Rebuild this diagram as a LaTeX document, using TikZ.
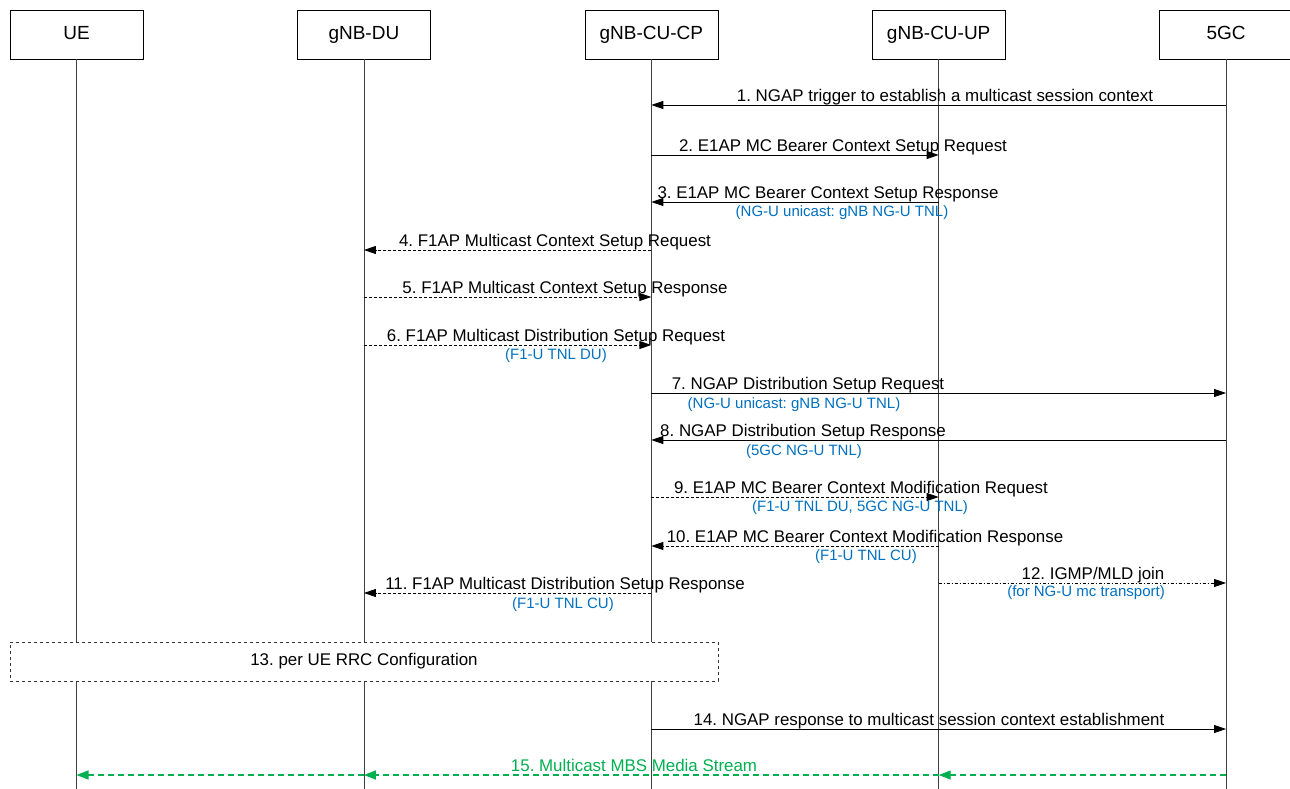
\documentclass[tikz,border=0pt]{standalone}
\usepackage{fontspec}
\setmainfont{Liberation Sans}
\usetikzlibrary{arrows.meta, positioning, calc}

\definecolor{noteblue}{RGB}{0,112,192}
\definecolor{streamgreen}{RGB}{0,176,80}

\begin{document}
\frenchspacing
\begin{tikzpicture}[
		x=1pt, y=-1pt,
		node distance=154pt,
		entity/.style={draw, minimum width=133pt, minimum height=49pt, inner sep=0pt, text height=14pt, text depth=4pt, font=\fontsize{19}{22}\selectfont},
		life/.style={draw=black!75, line width=0.8pt},
		msg/.style={-{Triangle[length=12pt, width=8pt]}, line width=0.9pt},
		dmsg/.style={msg, dash pattern=on 3pt off 2pt},
		ddmsg/.style={msg, dash pattern=on 3pt off 2pt on 1pt off 2pt},
		mlabel/.style={inner xsep=0pt, inner ysep=3.5pt, text height=12pt, text depth=0pt, anchor=south, font=\fontsize{16.9}{19}\selectfont},
		note/.style={inner sep=0pt, text=noteblue, font=\fontsize{15}{17}\selectfont},
		rrc/.style={draw=black!80, dashed, fill=white, minimum width=708pt, minimum height=39pt, font=\fontsize{16.9}{19}\selectfont},
		stream/.style={-{Triangle[length=12pt, width=9pt]}, draw=streamgreen, line width=1.3pt, dash pattern=on 6pt off 4pt}
		]
		\useasboundingbox (0,0) rectangle (1290,789);
		\coordinate (bottom) at (0,789);
		
		% entities
		\node[entity] (ue) at (76.5,34.5) {UE};
		\node[entity, right=of ue] (du) {gNB-DU};
		\node[entity, right=of du] (cp) {gNB-CU-CP};
		\node[entity, right=of cp] (up) {gNB-CU-UP};
		\node[entity, right=of up] (core) {5GC};
		
		% lifelines
		\draw[life] (ue.south) -- (ue |- bottom);
		\draw[life] (du.south) -- (du |- bottom);
		\draw[life] (cp.south) -- (cp |- bottom);
		\draw[life] (up.south) -- (up |- bottom);
		\draw[life] (core.south) -- (core |- bottom);
		
		% messages
		\node[mlabel] (m1) at (945,105) {1. NGAP trigger to establish a multicast session context};
		\draw[msg] (core |- m1.south) -- (cp |- m1.south);
		
		\node[mlabel] (m2) at (843,155) {2. E1AP MC Bearer Context Setup Request};
		\draw[msg] (cp |- m2.south) -- (up |- m2.south);
		
		\node[mlabel] (m3) at (828,202) {3. E1AP MC Bearer Context Setup Response};
		\draw[msg] (up |- m3.south) -- (cp |- m3.south);
		\node[note] (n3) at (842,213) {(NG-U unicast: gNB NG-U TNL)};
		
		\node[mlabel] (m4) at (555,250) {4. F1AP Multicast Context Setup Request};
		\draw[dmsg] (cp |- m4.south) -- (du |- m4.south);
		
		\node[mlabel] (m5) at (565,297) {5. F1AP Multicast Context Setup Response};
		\draw[dmsg] (du |- m5.south) -- (cp |- m5.south);
		
		\node[mlabel] (m6) at (556,345) {6. F1AP Multicast Distribution Setup Request};
		\draw[dmsg] (du |- m6.south) -- (cp |- m6.south);
		\node[note] (n6) at (556,356) {(F1-U TNL DU)};
		
		\node[mlabel] (m7) at (808,393) {7. NGAP Distribution Setup Request};
		\draw[msg] (cp |- m7.south) -- (core |- m7.south);
		\node[note] (n7) at (794,405) {(NG-U unicast: gNB NG-U TNL)};
		
		\node[mlabel] (m8) at (803,440) {8. NGAP Distribution Setup Response};
		\draw[msg] (core |- m8.south) -- (cp |- m8.south);
		\node[note] (n8) at (804,452) {(5GC NG-U TNL)};
		
		\node[mlabel] (m9) at (861,497) {9. E1AP MC Bearer Context Modification Request};
		\draw[dmsg] (cp |- m9.south) -- (up |- m9.south);
		\node[note] (n9) at (860,508) {(F1-U TNL DU, 5GC NG-U TNL)};
		
		\node[mlabel] (m10) at (865,546) {10. E1AP MC Bearer Context Modification Response};
		\draw[dmsg] (up |- m10.south) -- (cp |- m10.south);
		\node[note] (n10) at (866,557) {(F1-U TNL CU)};
		
		\node[mlabel] (m11) at (565,593) {11. F1AP Multicast Distribution Setup Response};
		\draw[dmsg] (cp |- m11.south) -- (du |- m11.south);
		\node[note] (n11) at (563,605) {(F1-U TNL CU)};
		
		\node[mlabel] (m12) at (1093,583) {12. IGMP/MLD join};
		\draw[ddmsg] (up |- m12.south) -- (core |- m12.south);
		\node[note] (n12) at (1086,593) {(for NG-U mc transport)};
		
		% RRC box
		\node[rrc] (m13) at (364,661.5) {13. per UE RRC Configuration};
		
		\node[mlabel] (m14) at (929,729) {14. NGAP response to multicast session context establishment};
		\draw[msg] (cp |- m14.south) -- (core |- m14.south);
		
		% MBS stream
		\node[mlabel, text=streamgreen] (m15) at (634,775) {15. Multicast MBS Media Stream};
		\draw[stream] (core |- m15.south) -- (up |- m15.south);
		\draw[stream] (up |- m15.south) -- (du |- m15.south);
		\draw[stream] (du |- m15.south) -- (ue |- m15.south);
		
	\end{tikzpicture}
\end{document}
